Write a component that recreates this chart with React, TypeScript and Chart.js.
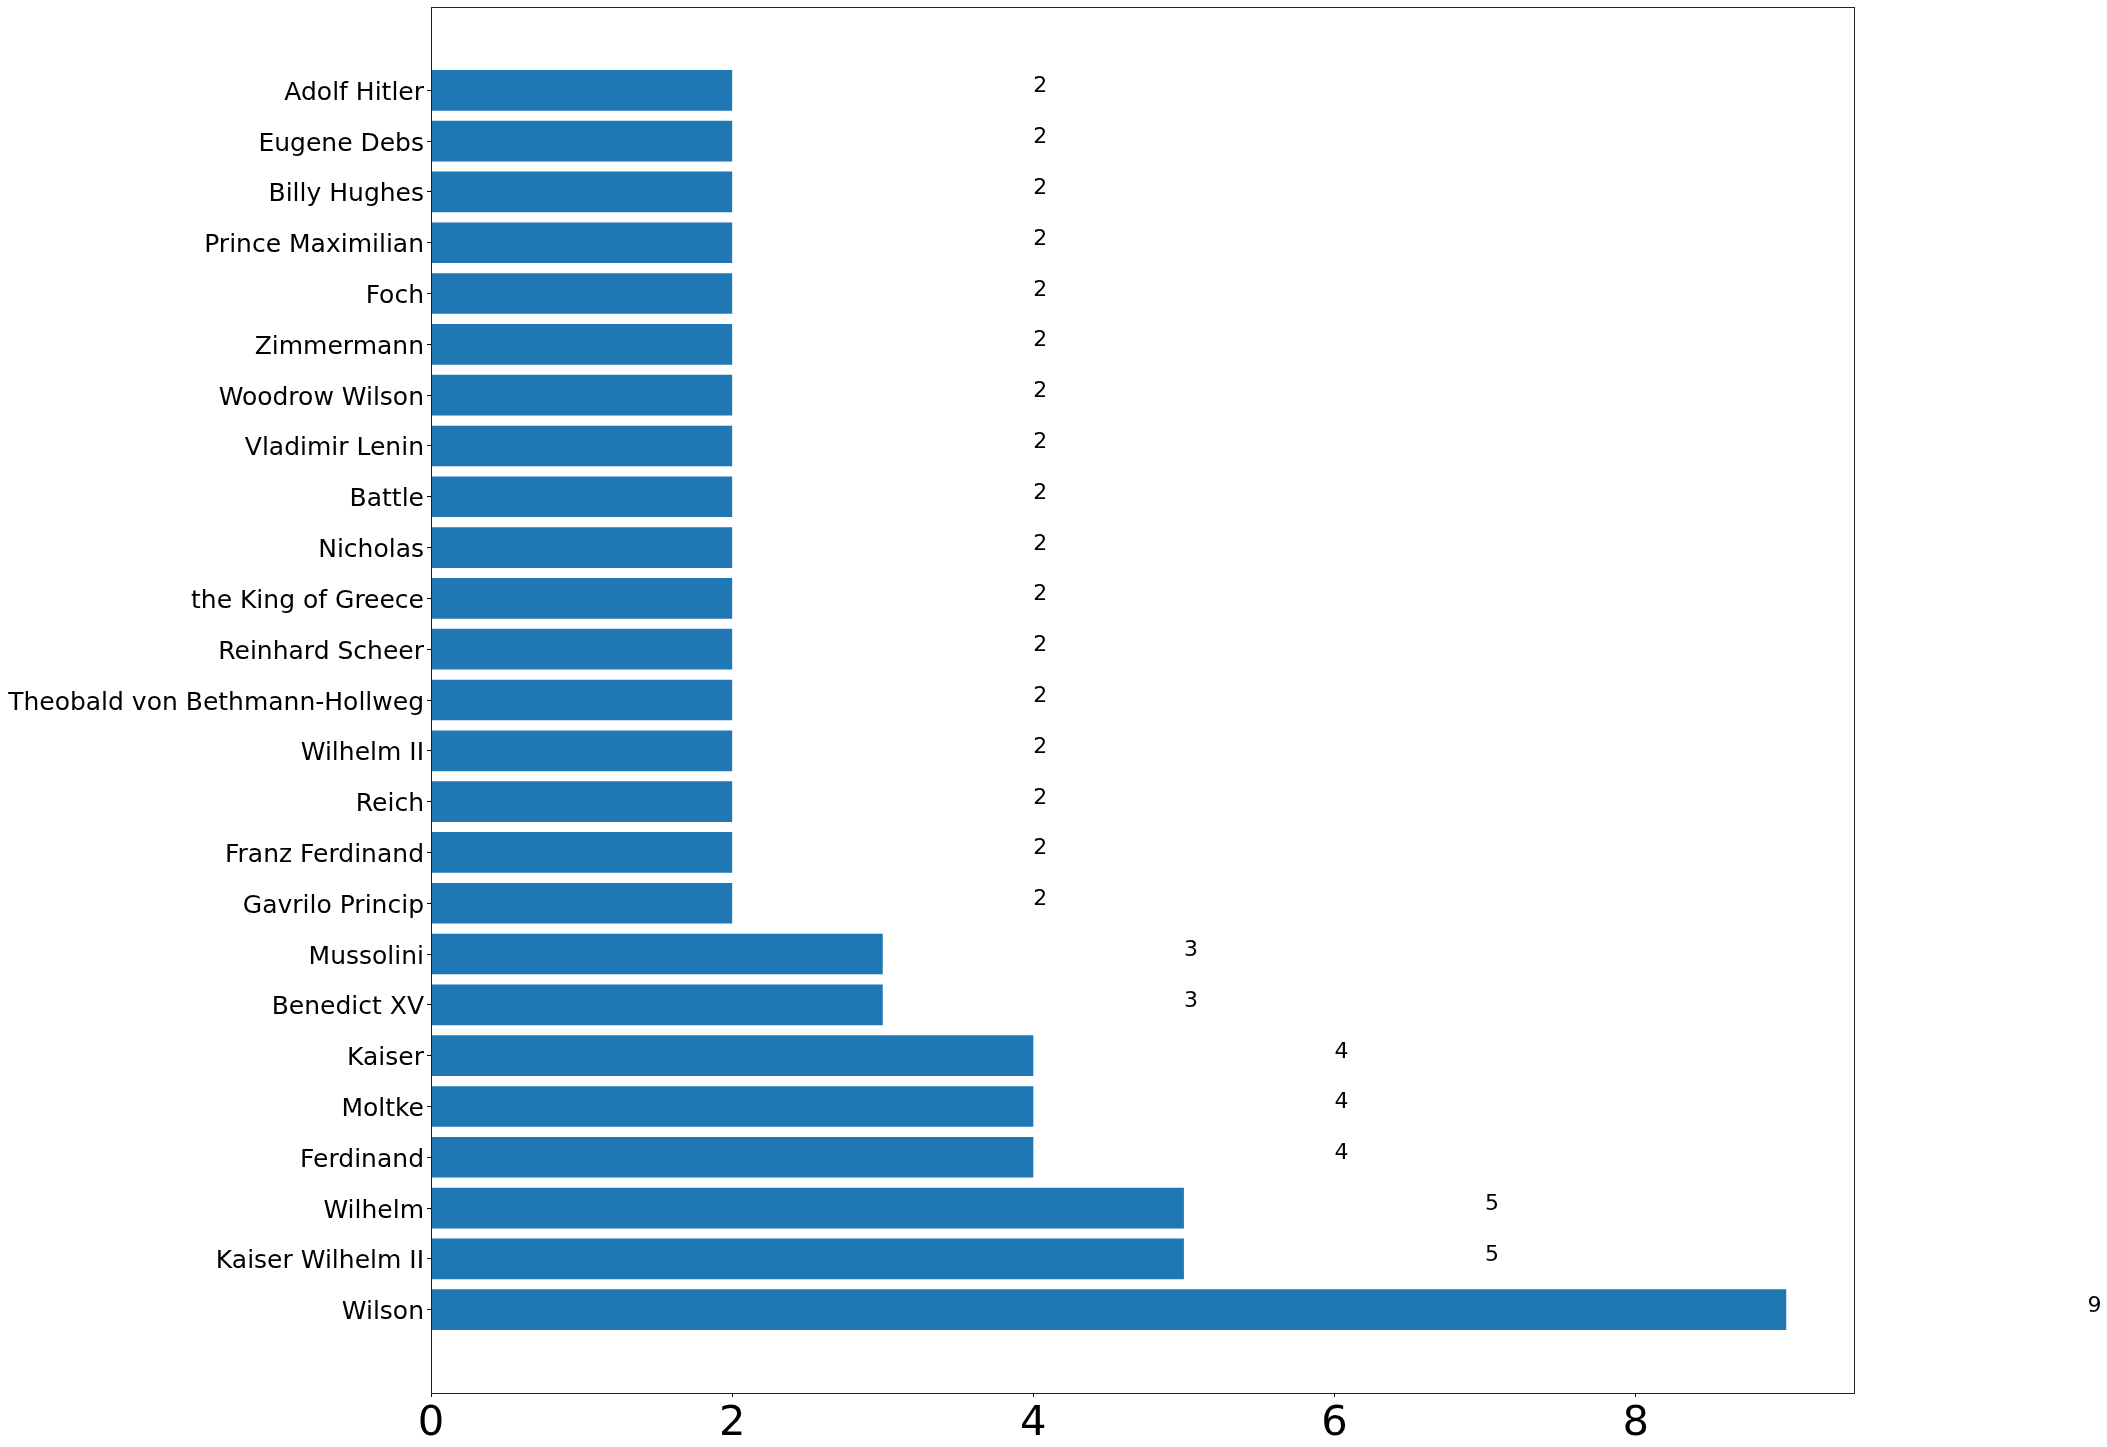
import React, { useEffect, useRef } from "react";
import { Chart, registerables } from "chart.js";

Chart.register(...registerables);

// Data (index 0 is drawn at the bottom, as in the original barh)
const names: string[] = [
  "Wilson",
  "Kaiser Wilhelm II",
  "Wilhelm",
  "Ferdinand",
  "Moltke",
  "Kaiser",
  "Benedict XV",
  "Mussolini",
  "Gavrilo Princip",
  "Franz Ferdinand",
  "Reich",
  "Wilhelm II",
  "Theobald von Bethmann-Hollweg",
  "Reinhard Scheer",
  "the King of Greece",
  "Nicholas",
  "Battle",
  "Vladimir Lenin",
  "Woodrow Wilson",
  "Zimmermann",
  "Foch",
  "Prince Maximilian",
  "Billy Hughes",
  "Eugene Debs",
  "Adolf Hitler",
];

const counts: number[] = [9, 5, 5, 4, 4, 4, 3, 3, 2, 2, 2, 2, 2, 2, 2, 2, 2, 2, 2, 2, 2, 2, 2, 2, 2];

const xTickValues: number[] = [0, 2, 4, 6, 8];
const labelOffset = 2; // value labels placed at value + 2 (data units)

const W = 2107;
const H = 1447;

export default function App() {
  const ref = useRef<HTMLCanvasElement | null>(null);

  useEffect(() => {
    if (!ref.current) return;
    const n = names.length;
    const barW = 0.8;
    const yMargin = 0.05 * (n - 1 + barW);
    const yMin = -barW / 2 - yMargin;
    const yMax = n - 1 + barW / 2 + yMargin;
    const xMax = Math.max(...counts) * 1.05;

    const framePlugin = {
      id: "frame",
      afterDraw(chart: any) {
        const { ctx, chartArea } = chart;
        ctx.save();
        ctx.strokeStyle = "#222";
        ctx.lineWidth = 1;
        ctx.strokeRect(
          Math.round(chartArea.left) + 0.5,
          Math.round(chartArea.top) + 0.5,
          Math.round(chartArea.right - chartArea.left),
          Math.round(chartArea.bottom - chartArea.top)
        );
        ctx.restore();
      },
    };

    const valueLabels = {
      id: "valueLabels",
      afterDraw(chart: any) {
        const { ctx } = chart;
        const xs = chart.scales.x;
        const ys = chart.scales.y;
        ctx.save();
        ctx.fillStyle = "#000";
        ctx.font = '22px "DejaVu Sans"';
        ctx.textAlign = "left";
        ctx.textBaseline = "alphabetic";
        counts.forEach((v, i) => {
          const px = xs.getPixelForValue(v + labelOffset);
          const py = ys.getPixelForValue(i) + 2;
          ctx.fillText(String(v), px, py);
        });
        ctx.restore();
      },
    };

    const chart = new Chart(ref.current, {
      type: "bar",
      data: {
        datasets: [
          {
            data: counts.map((v, i) => ({ x: v, y: i })),
            backgroundColor: "#1f77b4",
            borderWidth: 0,
            barPercentage: 0.8,
            categoryPercentage: 1.0,
          } as any,
        ],
      },
      options: {
        indexAxis: "y",
        responsive: false,
        animation: false,
        devicePixelRatio: 1,
        layout: { padding: { top: 7, right: 253, left: 0, bottom: 0 } },
        plugins: {
          legend: { display: false },
          tooltip: { enabled: false },
        },
        scales: {
          x: {
            type: "linear",
            min: 0,
            max: xMax,
            offset: false,
            afterBuildTicks: (scale: any) => {
              scale.ticks = xTickValues.map((v) => ({ value: v }));
            },
            afterFit: (scale: any) => {
              scale.height = 54;
              scale.paddingLeft = 0;
              scale.paddingRight = 0;
            },
            border: { display: false },
            grid: {
              display: true,
              offset: false,
              drawOnChartArea: false,
              drawTicks: true,
              tickLength: 4,
              color: "#000",
            },
            ticks: {
              color: "#000",
              padding: 2,
              font: { family: "DejaVu Sans", size: 41.7 },
              maxRotation: 0,
              autoSkip: false,
              callback: (v: any) => String(v),
            },
          },
          y: {
            type: "linear",
            min: yMin,
            max: yMax,
            offset: false,
            afterBuildTicks: (scale: any) => {
              scale.ticks = names.map((_, i) => ({ value: i }));
            },
            afterFit: (scale: any) => {
              scale.width = 431;
              scale.paddingTop = 0;
              scale.paddingBottom = 0;
            },
            border: { display: false },
            grid: {
              display: true,
              offset: false,
              drawOnChartArea: false,
              drawTicks: true,
              tickLength: 4,
              color: "#000",
            },
            ticks: {
              color: "#000",
              padding: 3,
              labelOffset: 3,
              autoSkip: false,
              font: { family: "DejaVu Sans", size: 25 },
              callback: (v: any) => names[v as number] ?? "",
            },
          },
        },
      } as any,
      plugins: [framePlugin, valueLabels],
    });

    return () => chart.destroy();
  }, []);

  return (
    <div style={{ position: "absolute", left: 0, top: 0, width: W, height: H, background: "#fff" }}>
      <canvas ref={ref} width={W} height={H} style={{ display: "block", width: W, height: H }} />
    </div>
  );
}
